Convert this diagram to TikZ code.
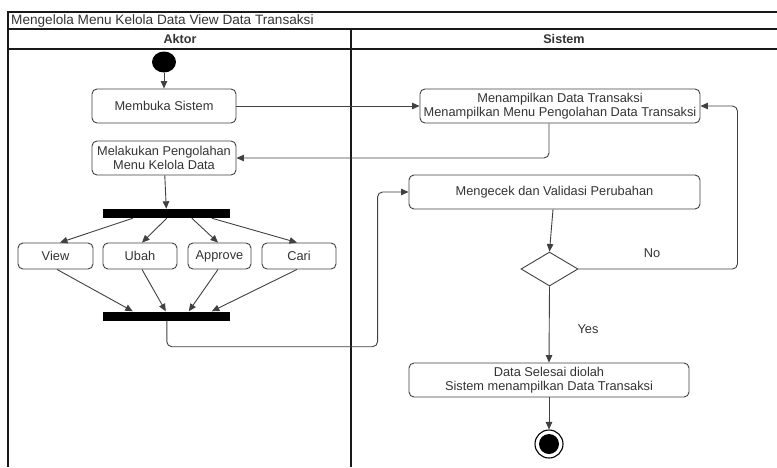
\documentclass[tikz,border=0pt]{standalone}
\usepackage{fontspec}
\setmainfont{Liberation Sans}
\usetikzlibrary{arrows.meta,shapes.geometric,calc}
\begin{document}
\begin{tikzpicture}[x=1pt,y=-1pt,
  font=\fontsize{12.8}{14}\selectfont,
  frame/.style={line width=1.1pt, draw=black!90},
  act/.style={draw=black!75, line width=0.9pt, rounded corners=5pt, align=center, inner sep=0pt, text=black!80},
  bar/.style={fill=black, inner sep=0pt, minimum width=127pt, minimum height=9pt},
  flow/.style={draw=black!75, line width=0.9pt, -{Triangle[length=7.5pt,width=6.5pt]}},
  link/.style={draw=black!75, line width=0.9pt, rounded corners=5pt, -{Triangle[length=7.5pt,width=6.5pt]}},
  lbl/.style={text=black!80, inner sep=0pt},
]
\useasboundingbox (0,0) rectangle (777,467);

% swimlane frame
\draw[frame] (777,12) -- (8,12) -- (8,467);
\draw[frame] (8,29) -- (777,29);
\draw[frame] (8,49) -- (777,49);
\draw[frame] (351,29) -- (351,467);
\node[lbl, anchor=west, font=\fontsize{13.6}{15}\selectfont] (title) at (11,21) {Mengelola Menu Kelola Data View Data Transaksi};
\node[lbl, font=\fontsize{12.6}{14}\selectfont\bfseries] (aktor) at (180,39) {Aktor};
\node[lbl, font=\fontsize{12.6}{14}\selectfont\bfseries] (sistem) at (564,39) {Sistem};

% actor lane
\node[ellipse, fill=black, inner sep=0pt, minimum width=24pt, minimum height=21pt] (start) at (164,62) {};
\node[act, minimum width=144pt, minimum height=34pt] (membuka) at (164,106) {Membuka Sistem};
\node[act, minimum width=144pt, minimum height=34pt] (olah) at (164,158) {Melakukan Pengolahan\\Menu Kelola Data};
\node[bar] (fork) at (166.5,213.5) {};
\node[act, minimum width=75pt, minimum height=26pt] (view) at (55.5,256) {View};
\node[act, minimum width=74pt, minimum height=26pt] (ubah) at (140,256) {Ubah};
\node[act, minimum width=63pt, minimum height=26pt] (approve) at (219.5,256) {Approve};
\node[act, minimum width=74pt, minimum height=26pt] (cari) at (299,256) {Cari};
\node[bar] (join) at (166.5,316) {};

% system lane
\node[act, minimum width=280pt, minimum height=34pt] (tampil) at (560,106) {Menampilkan Data Transaksi\\Menampilkan Menu Pengolahan Data Transaksi};
\node[act, minimum width=291pt, minimum height=34pt] (cek) at (554.5,192) {Mengecek dan Validasi Perubahan};
\node[diamond, draw=black!75, line width=0.9pt, inner sep=0pt, minimum width=57pt, minimum height=34pt] (dec) at (549.5,269) {};
\node[act, minimum width=280pt, minimum height=34pt] (selesai) at (549,380) {Data Selesai diolah\\Sistem menampilkan Data Transaksi};
\node[circle, draw=black, line width=1.1pt, inner sep=0pt, minimum size=28pt] (end) at (549,444) {};
\node[circle, fill=black, inner sep=0pt, minimum size=20pt] (endcore) at (end) {};
\node[lbl] (nolbl) at (652,253) {No};
\node[lbl] (yeslbl) at (588,329) {Yes};

% flow
\draw[flow] (start) -- (membuka);
\draw[flow] (membuka) -- (tampil);
\draw[link] ($(tampil.south)+(-11,0)$) |- (olah.east);
\draw[flow] (olah) -- (fork);

\draw[flow] ($(fork.south west)+(30,0)$) -- ($(view.north)+(4.5,0)$);
\draw[flow] ($(fork.south west)+(64,0)$) -- ($(ubah.north)+(2,0)$);
\draw[flow] ($(fork.south west)+(89,0)$) -- ($(approve.north)+(-1.5,0)$);
\draw[flow] ($(fork.south west)+(109,0)$) -- ($(cari.north)+(-2,0)$);

\draw[flow] ($(view.south)+(1.5,0)$) -- ($(join.north west)+(30,0)$);
\draw[flow] ($(ubah.south)+(2,0)$) -- ($(join.north west)+(63,0)$);
\draw[flow] ($(approve.south)+(-1.5,0)$) -- ($(join.north west)+(86,0)$);
\draw[flow] ($(cari.south)+(-2,0)$) -- ($(join.north west)+(109,0)$);

\draw[link] ($(join.south west)+(64,0)$) -- ++(0,26) -| ($(cek.west)+(-31,0)$) -- (cek.west);
\draw[flow] ($(cek.south)+(-1.5,0)$) -- (dec.north);
\draw[link] (dec.east) -| ($(tampil.east)+(37,0)$) -- (tampil.east);
\draw[flow] (dec.south) -- (selesai.north);
\draw[flow] (selesai) -- (end);
\end{tikzpicture}
\end{document}
